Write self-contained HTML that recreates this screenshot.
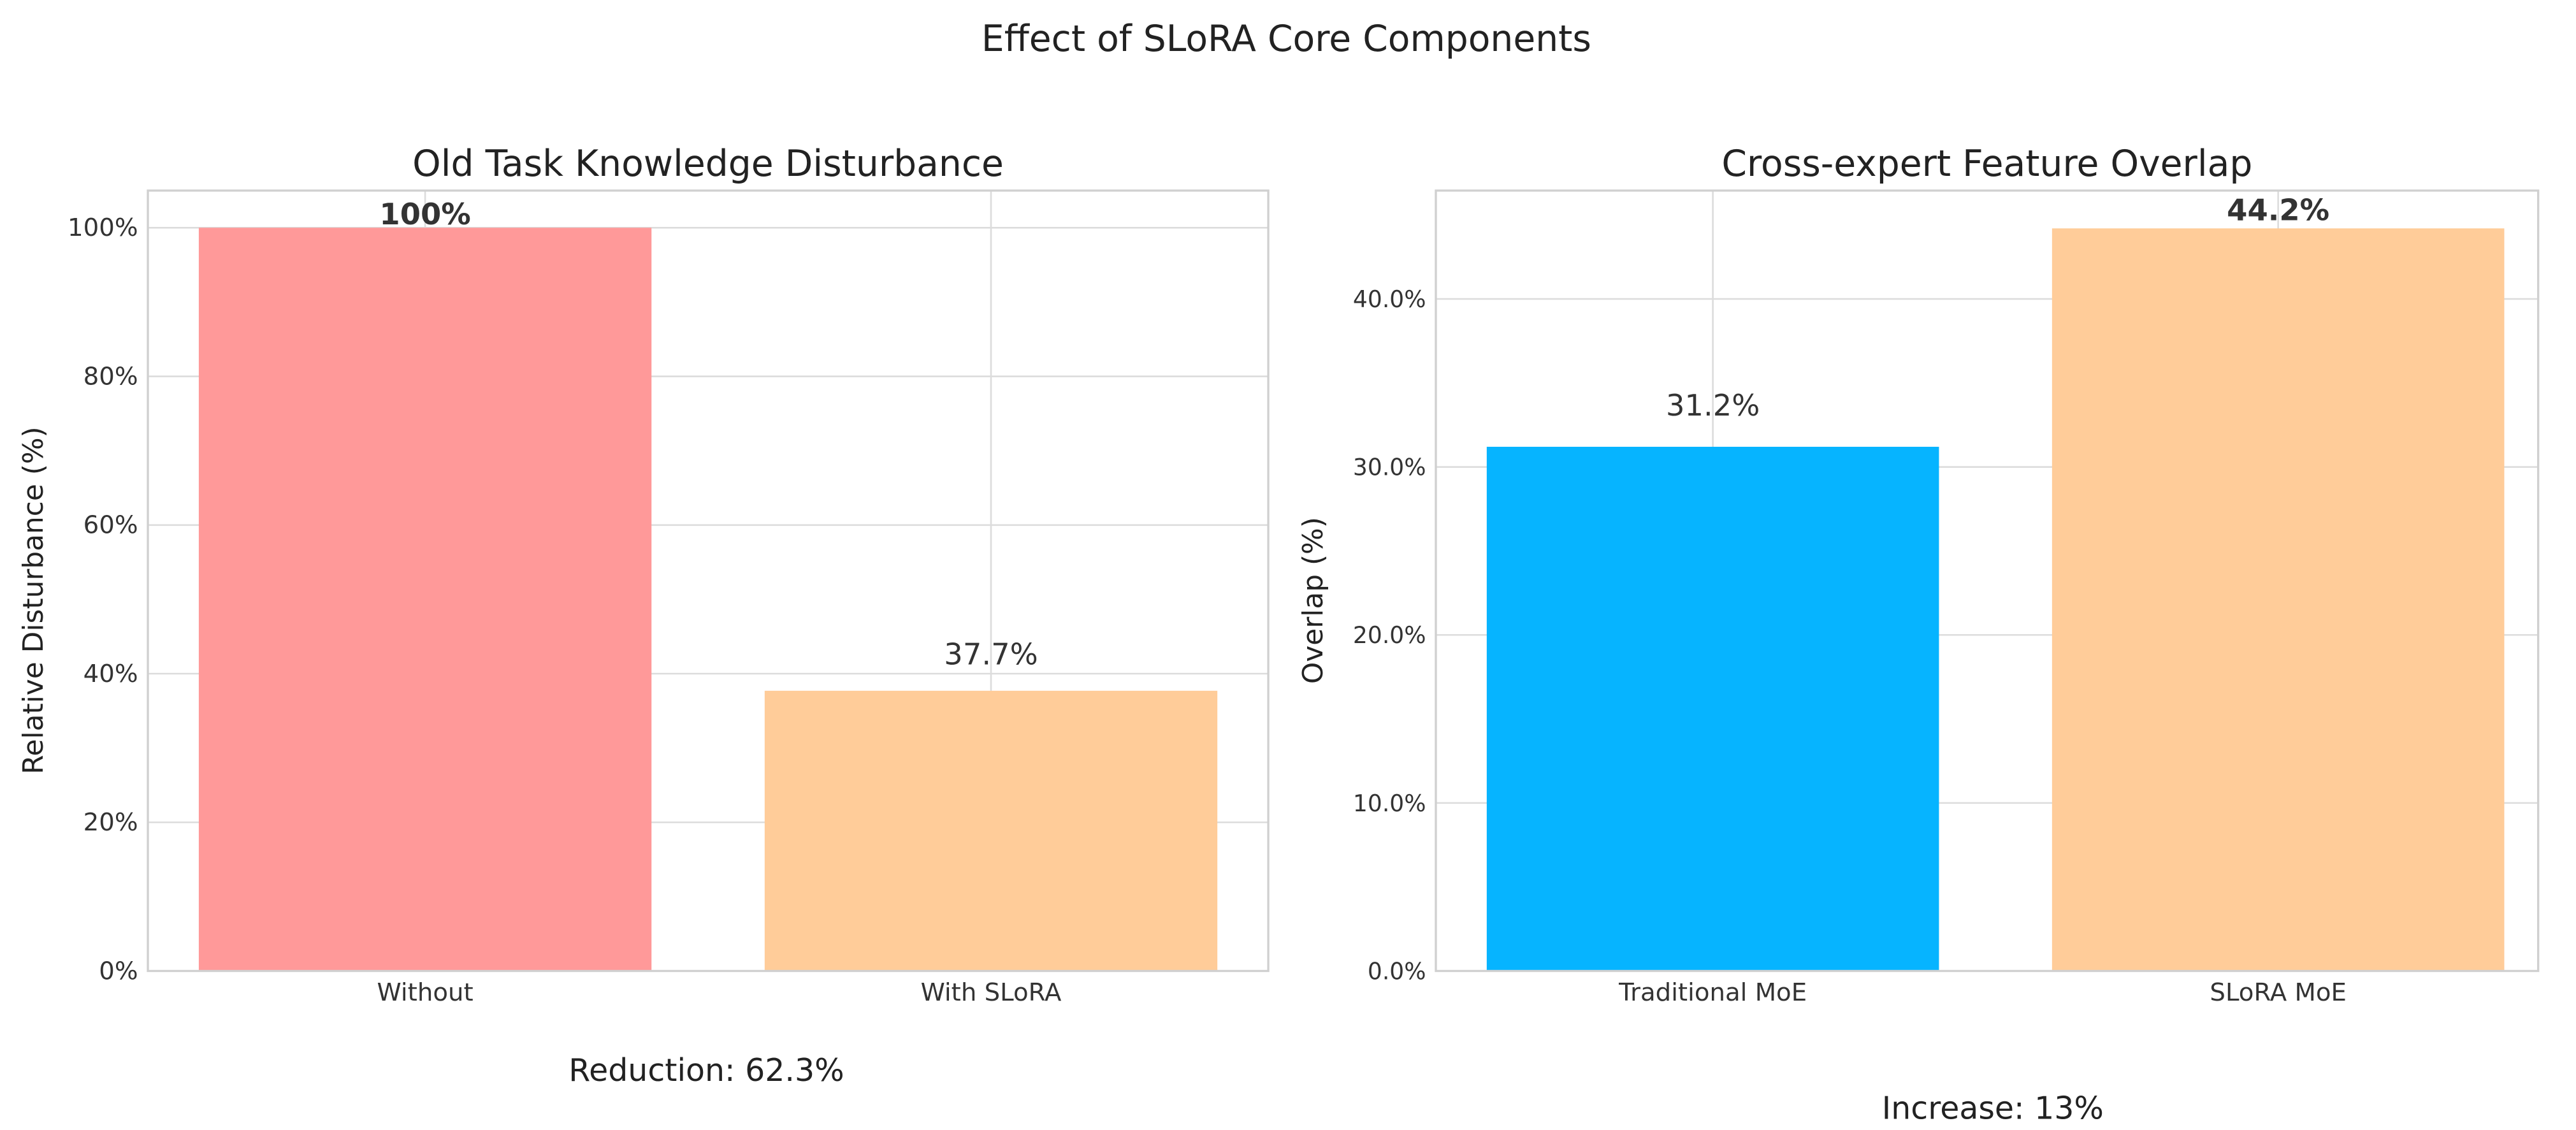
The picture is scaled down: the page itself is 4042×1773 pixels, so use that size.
<!DOCTYPE html>
<html><head><meta charset="utf-8"><style>
html,body{margin:0;padding:0;background:#fff;}
svg{display:block;font-family:"DejaVu Sans","Liberation Sans",sans-serif;}
</style></head><body>
<svg id="chart" width="4042" height="1773" viewBox="0 0 1568 687.8" xmlns="http://www.w3.org/2000/svg">
<rect width="1568" height="687.8" fill="#fff"/>
<text x="783" y="31" text-anchor="middle" font-size="22" fill="#222">Effect of SLoRA Core Components</text>
<g id="left"></g>
<g id="right"></g>
</svg>
<script>
const leftCategories = ["Without", "With SLoRA"];
const leftValues = [100, 37.7];
const leftLabels = ["100%", "37.7%"];
const leftTicks = [0, 20, 40, 60, 80, 100];
const leftTickLabels = ["0%", "20%", "40%", "60%", "80%", "100%"];
const rightCategories = ["Traditional MoE", "SLoRA MoE"];
const rightValues = [31.2, 44.2];
const rightLabels = ["31.2%", "44.2%"];
const rightTicks = [0, 10, 20, 30, 40];
const rightTickLabels = ["0.0%", "10.0%", "20.0%", "30.0%", "40.0%"];

const NS = "http://www.w3.org/2000/svg";
function mk(parent, tag, attrs, text) {
  const e = document.createElementNS(NS, tag);
  for (const k in attrs) e.setAttribute(k, attrs[k]);
  if (text !== undefined) e.textContent = text;
  parent.appendChild(e);
  return e;
}
function panel(g, cfg) {
  const {x0, x1, yTop, yBot, ymax, xmin, xmax, cats, vals, labels, ticks, tickLabels, colors, boldIdx, title, ylabel, ylabelX, note, noteX, noteY, labelOffsets, tickFs, xFs} = cfg;
  const sx = v => x0 + (v - xmin) / (xmax - xmin) * (x1 - x0);
  const sy = v => yBot - v / ymax * (yBot - yTop);
  ticks.forEach((t, i) => {
    const gl = mk(g, "line", {x1: x0, x2: x1, y1: sy(t), y2: sy(t), stroke: "#dcdcdc", "stroke-width": 1});
    
    
    const tl = mk(g, "text", {x: x0 - 6, y: sy(t) + 5, "text-anchor": "end", "font-size": tickFs, fill: "#333"}, tickLabels[i]);
    
    
  });
  cats.forEach((c, i) => {
    const vg = mk(g, "line", {x1: sx(i), x2: sx(i), y1: yTop, y2: yBot, stroke: "#dcdcdc", "stroke-width": 1});
    
    
  });
  cats.forEach((c, i) => {
    const w = 0.8;
    const b = mk(g, "rect", {x: sx(i - w / 2), y: sy(vals[i]), width: sx(i + w / 2) - sx(i - w / 2), height: yBot - sy(vals[i]), fill: colors[i]});
    
    
    const vl = mk(g, "text", {x: sx(i), y: sy(vals[i]) - labelOffsets[i], "text-anchor": "middle", "font-size": 18, fill: "#333", "font-weight": boldIdx === i ? "bold" : "normal"}, labels[i]);
    
    
    const xl = mk(g, "text", {x: sx(i), y: yBot + 18, "text-anchor": "middle", "font-size": xFs, fill: "#333"}, c);
    
    
  });
  const fr = mk(g, "rect", {x: x0, y: yTop, width: x1 - x0, height: yBot - yTop, fill: "none", stroke: "#d0d0d0", "stroke-width": 1.3});
  
  
  const t = mk(g, "text", {x: (x0 + x1) / 2, y: 107, "text-anchor": "middle", "font-size": 22, fill: "#222"}, title);
  
  
  const yc = (yTop + yBot) / 2 + 12;
  const yl = mk(g, "text", {x: ylabelX, y: yc, "text-anchor": "middle", "font-size": 17, fill: "#222", transform: `rotate(-90 ${ylabelX} ${yc})`}, ylabel);
  
  
  const n = mk(g, "text", {x: noteX, y: noteY, "text-anchor": "middle", "font-size": 19, fill: "#222"}, note);
  
  
}
panel(document.getElementById("left"), {
  x0: 90, x1: 772, yTop: 116, yBot: 591, ymax: 105, xmin: -0.49, xmax: 1.49,
  cats: leftCategories, vals: leftValues, labels: leftLabels, ticks: leftTicks, tickLabels: leftTickLabels,
  colors: ["#ff9999", "#ffcc99"], boldIdx: 0, title: "Old Task Knowledge Disturbance",
  ylabel: "Relative Disturbance (%)", ylabelX: 26, note: "Reduction: 62.3%", noteX: 430, noteY: 658, labelOffsets: [2, 16], tickFs: 15, xFs: 15
});
panel(document.getElementById("right"), {
  x0: 874, x1: 1545, yTop: 116, yBot: 591, ymax: 46.45, xmin: -0.49, xmax: 1.46,
  cats: rightCategories, vals: rightValues, labels: rightLabels, ticks: rightTicks, tickLabels: rightTickLabels,
  colors: ["#06b4ff", "#ffcc99"], boldIdx: 1, title: "Cross-expert Feature Overlap",
  ylabel: "Overlap (%)", ylabelX: 805, note: "Increase: 13%", noteX: 1213, noteY: 681, labelOffsets: [19, 5], tickFs: 14, xFs: 15
});
</script>
</body></html>
